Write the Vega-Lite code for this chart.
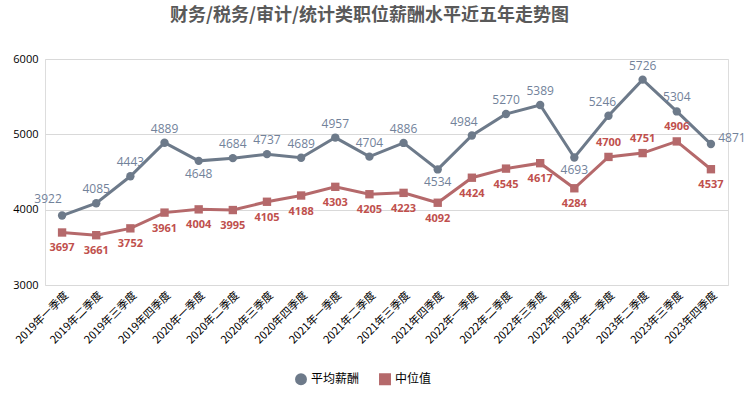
{
  "$schema": "https://vega.github.io/schema/vega-lite/v6.json",
  "width": 683,
  "height": 226,
  "autosize": {"type": "none"},
  "padding": {"left": 45, "top": 59, "right": 18, "bottom": 109},
  "background": "white",
  "title": {
    "text": "财务/税务/审计/统计类职位薪酬水平近五年走势图",
    "font": "Noto Sans CJK SC",
    "fontSize": 18,
    "fontWeight": "bold",
    "color": "#595959",
    "anchor": "middle",
    "dx": -17,
    "offset": 28
  },
  "data": {
    "values": [
      {"q": "2019年一季度", "平均薪酬": 3922, "中位值": 3697},
      {"q": "2019年二季度", "平均薪酬": 4085, "中位值": 3661},
      {"q": "2019年三季度", "平均薪酬": 4443, "中位值": 3752},
      {"q": "2019年四季度", "平均薪酬": 4889, "中位值": 3961},
      {"q": "2020年一季度", "平均薪酬": 4648, "中位值": 4004},
      {"q": "2020年二季度", "平均薪酬": 4684, "中位值": 3995},
      {"q": "2020年三季度", "平均薪酬": 4737, "中位值": 4105},
      {"q": "2020年四季度", "平均薪酬": 4689, "中位值": 4188},
      {"q": "2021年一季度", "平均薪酬": 4957, "中位值": 4303},
      {"q": "2021年二季度", "平均薪酬": 4704, "中位值": 4205},
      {"q": "2021年三季度", "平均薪酬": 4886, "中位值": 4223},
      {"q": "2021年四季度", "平均薪酬": 4534, "中位值": 4092},
      {"q": "2022年一季度", "平均薪酬": 4984, "中位值": 4424},
      {"q": "2022年二季度", "平均薪酬": 5270, "中位值": 4545},
      {"q": "2022年三季度", "平均薪酬": 5389, "中位值": 4617},
      {"q": "2022年四季度", "平均薪酬": 4693, "中位值": 4284},
      {"q": "2023年一季度", "平均薪酬": 5246, "中位值": 4700},
      {"q": "2023年二季度", "平均薪酬": 5726, "中位值": 4751},
      {"q": "2023年三季度", "平均薪酬": 5304, "中位值": 4906},
      {"q": "2023年四季度", "平均薪酬": 4871, "中位值": 4537}
    ]
  },
  "transform": [
    {"fold": ["平均薪酬", "中位值"], "as": ["series", "value"]}
  ],
  "encoding": {
    "x": {
      "field": "q",
      "type": "nominal",
      "sort": null,
      "scale": {"paddingInner": 0, "paddingOuter": 0},
      "axis": {
        "title": null,
        "labelAngle": -45,
        "labelFont": "Noto Sans CJK SC",
        "labelFontSize": 11,
        "labelColor": "#000000",
        "domain": false,
        "ticks": false,
        "grid": false,
        "labelPadding": 4
      }
    },
    "y": {
      "field": "value",
      "type": "quantitative",
      "scale": {"domain": [3000, 6000], "nice": false},
      "axis": {
        "title": null,
        "values": [3000, 4000, 5000, 6000],
        "format": "d",
        "labelFont": "Open Sans",
        "labelFontSize": 11,
        "labelColor": "#000000",
        "domain": false,
        "ticks": false,
        "labelPadding": 7,
        "gridColor": "#d9d9d9",
        "gridWidth": 1
      }
    },
    "color": {
      "field": "series",
      "type": "nominal",
      "sort": ["平均薪酬", "中位值"],
      "scale": {"domain": ["平均薪酬", "中位值"], "range": ["#6d7a8a", "#b5696b"]},
      "legend": {
        "title": null,
        "orient": "none",
        "direction": "horizontal",
        "legendX": 250,
        "legendY": 314,
        "labelFont": "Noto Sans CJK SC",
        "labelFontSize": 12,
        "labelColor": "#000000",
        "symbolSize": 80,
        "symbolStrokeWidth": 3,
        "columnPadding": 14
      }
    }
  },
  "layer": [
    {
      "mark": {"type": "line", "strokeWidth": 3},
      "encoding": {}
    },
    {
      "mark": {"type": "point", "filled": true, "size": 70, "opacity": 1},
      "encoding": {
        "shape": {
          "field": "series",
          "type": "nominal",
          "sort": ["平均薪酬", "中位值"],
          "scale": {"domain": ["平均薪酬", "中位值"], "range": ["circle", "square"]},
          "legend": null
        }
      }
    },
    {
      "transform": [{"filter": "datum.series == '平均薪酬'"}],
      "mark": {
        "type": "text",
        "font": "Open Sans",
        "fontSize": 12,
        "dx": {"expr": "datum.value == 4871 ? 21 : (datum.value == 3922 ? -14 : (datum.value == 5246 ? -6 : (datum.value == 4984 ? -8 : 0)))"},
        "dy": {"expr": "(datum.value == 4648 || datum.value == 4534 || datum.value == 4693) ? 13 : (datum.value == 4871 ? -6 : (datum.value == 3922 ? -17 : -14))"}
      },
      "encoding": {
        "text": {"field": "value", "type": "quantitative"},
        "color": {"value": "#72829a"}
      }
    },
    {
      "transform": [{"filter": "datum.series == '中位值'"}],
      "mark": {
        "type": "text",
        "font": "Open Sans",
        "fontSize": 11,
        "fontWeight": "bold",
        "dy": {"expr": "(datum.value == 4700 || datum.value == 4751 || datum.value == 4906) ? -14 : 16"}
      },
      "encoding": {
        "text": {"field": "value", "type": "quantitative"},
        "color": {"value": "#c0504d"}
      }
    }
  ]
}
